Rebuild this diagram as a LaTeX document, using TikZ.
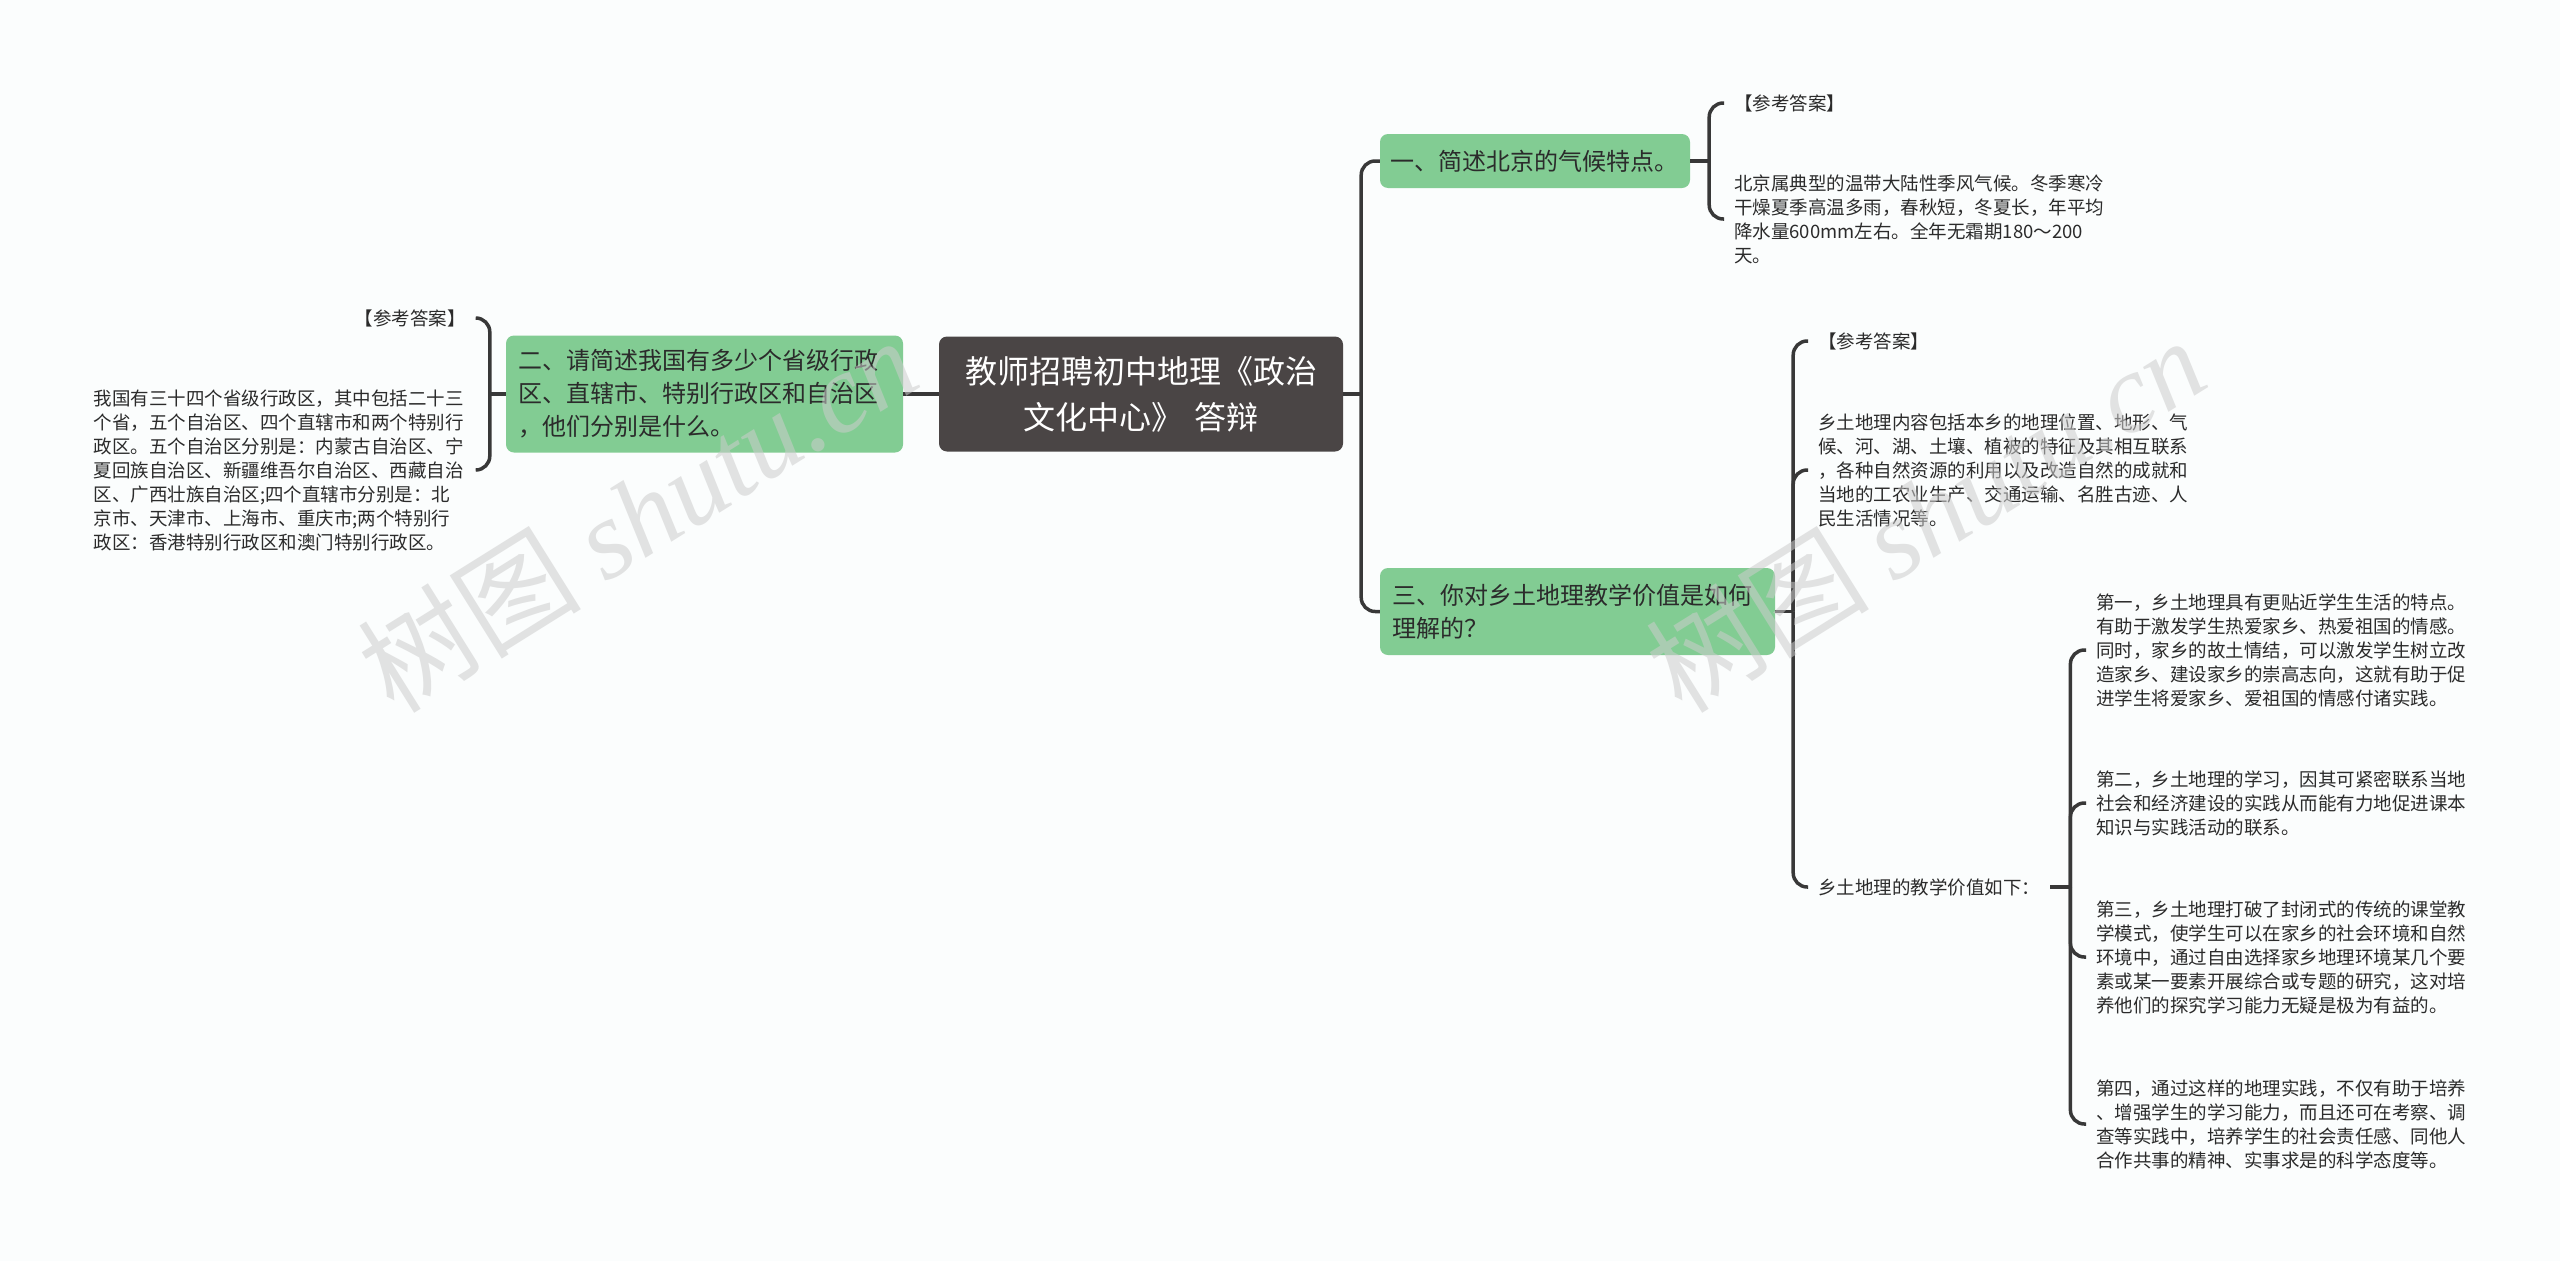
\documentclass[tikz,border=0pt]{standalone}
\usepackage{fontspec}
\setmainfont{Noto Sans CJK SC}
\newfontfamily\wmfont{Liberation Serif}
\definecolor{topicgray}{HTML}{4A4545}
\definecolor{branchgreen}{HTML}{82CC93}
\definecolor{linkgray}{HTML}{383838}
\definecolor{textgray}{HTML}{2B2B2B}
\definecolor{bgwhite}{HTML}{FBFDFD}

\begin{document}
\begin{tikzpicture}[x=1pt,y=-1pt,
  topic/.style={fill=topicgray,rounded corners=8pt,text=white,align=center,
    font=\fontsize{32}{46}\selectfont,inner xsep=22pt,text width=360pt,
    minimum height=115pt},
  branch/.style={fill=branchgreen,rounded corners=8pt,text=textgray,align=left,
    font=\fontsize{24}{33}\selectfont,inner xsep=12pt},
  leaf/.style={text=textgray,align=left,font=\fontsize{18.5}{24}\selectfont,
    inner xsep=10pt,inner ysep=2pt},
  link/.style={draw=linkgray,line width=3.5pt,rounded corners=14pt},
  wmark/.style={text=gray!40,opacity=0.55,rotate=32,
    font=\fontsize{112}{112}\selectfont}
]
\useasboundingbox (0,0) rectangle (2560,1261);
\fill[bgwhite] (0,0) rectangle (2560,1261);

\node[topic] (root) at (1141,394) {教师招聘初中地理《政治\\文化中心》 答辩};
\node[branch,text width=373pt,minimum height=117pt] (q2) at (704.5,394) {
  二、请简述我国有多少个省级行政\\区、直辖市、特别行政区和自治区\\，他们分别是什么。};
\node[branch,text width=290pt,inner xsep=10pt,minimum height=54pt] (q1) at (1535,161)
  {一、简述北京的气候特点。};
\node[branch,text width=371pt,minimum height=87pt] (q3) at (1577.5,611.5) {
  三、你对乡土地理教学价值是如何\\理解的？};

\node[leaf,anchor=east] (q2ref) at (476,318) {【参考答案】};
\node[leaf,anchor=east,text width=372pt] (q2ans) at (476,470) {
  我国有三十四个省级行政区，其中包括二十三\\
  个省，五个自治区、四个直辖市和两个特别行\\
  政区。五个自治区分别是：内蒙古自治区、宁\\
  夏回族自治区、新疆维吾尔自治区、西藏自治\\
  区、广西壮族自治区;四个直辖市分别是：北\\
  京市、天津市、上海市、重庆市;两个特别行\\
  政区：香港特别行政区和澳门特别行政区。};

\node[leaf,anchor=west] (q1ref) at (1724,103) {【参考答案】};
\node[leaf,anchor=west,text width=372pt] (q1ans) at (1724,219) {
  北京属典型的温带大陆性季风气候。冬季寒冷\\
  干燥夏季高温多雨，春秋短，冬夏长，年平均\\
  降水量600mm左右。全年无霜期180～200\\
  天。};

\node[leaf,anchor=west] (q3ref) at (1808,341) {【参考答案】};
\node[leaf,anchor=west,text width=374pt] (q3ans) at (1808,470) {
  乡土地理内容包括本乡的地理位置、地形、气\\
  候、河、湖、土壤、植被的特征及其相互联系\\
  ，各种自然资源的利用以及改造自然的成就和\\
  当地的工农业生产、交通运输、名胜古迹、人\\
  民生活情况等。};
\node[leaf,anchor=west] (q3val) at (1808,887) {乡土地理的教学价值如下：};

\node[leaf,anchor=west,text width=374pt] (v1) at (2086,650) {
  第一，乡土地理具有更贴近学生生活的特点。\\
  有助于激发学生热爱家乡、热爱祖国的情感。\\
  同时，家乡的故土情结，可以激发学生树立改\\
  造家乡、建设家乡的崇高志向，这就有助于促\\
  进学生将爱家乡、爱祖国的情感付诸实践。};
\node[leaf,anchor=west,text width=374pt] (v2) at (2086,803) {
  第二，乡土地理的学习，因其可紧密联系当地\\
  社会和经济建设的实践从而能有力地促进课本\\
  知识与实践活动的联系。};
\node[leaf,anchor=west,text width=374pt] (v3) at (2086,957) {
  第三，乡土地理打破了封闭式的传统的课堂教\\
  学模式，使学生可以在家乡的社会环境和自然\\
  环境中，通过自由选择家乡地理环境某几个要\\
  素或某一要素开展综合或专题的研究，这对培\\
  养他们的探究学习能力无疑是极为有益的。};
\node[leaf,anchor=west,text width=374pt] (v4) at (2086,1124) {
  第四，通过这样的地理实践，不仅有助于培养\\
  、增强学生的学习能力，而且还可在考察、调\\
  查等实践中，培养学生的社会责任感、同他人\\
  合作共事的精神、实事求是的科学态度等。};

\draw[link] (root.west) -- (q2.east);
\draw[link] (root.east) -- ++(18,0) coordinate (j0);
\draw[link] (j0) |- (q1.west);
\draw[link] (j0) |- (q3.west);
\draw[link] (q2.west) -- ++(-16,0) coordinate (j2);
\draw[link] (j2) |- (q2ref.east);
\draw[link] (j2) |- (q2ans.east);
\draw[link] (q1.east) -- ++(19,0) coordinate (j1);
\draw[link] (j1) |- (q1ref.west);
\draw[link] (j1) |- (q1ans.west);
\draw[link] (q3.east) -- ++(18,0) coordinate (j3);
\foreach \n in {q3ref,q3ans,q3val}
  \draw[link] (j3) |- (\n.west);
\draw[link] (q3val.east) -- ++(20,0) coordinate (j4);
\foreach \n in {v1,v2,v3,v4}
  \draw[link] (j4) |- (\n.west);

\node[wmark] (wm1) at (637,514) {树图 {\wmfont\itshape shutu.cn}};
\node[wmark] (wm2) at (1925,514) {树图 {\wmfont\itshape shutu.cn}};
\end{tikzpicture}
\end{document}
